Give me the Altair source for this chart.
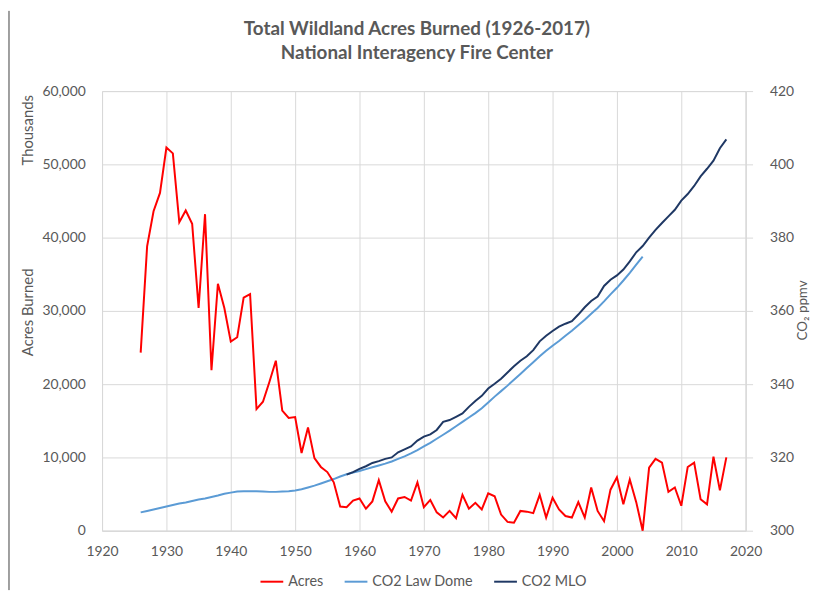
import altair as alt
import pandas as pd

FONT = "Lato"
TXT = "#595959"
GRID = "#d9d9d9"

# ---- data ----
acres_years = list(range(1926, 2018))
acres_thousands = [
    24300, 38800, 43600, 46100, 52300, 51500, 42100, 43700, 41900, 30400,
    43200, 21900, 33700, 30400, 25800, 26400, 31800, 32300, 16600, 17600,
    20300, 23200, 16400, 15400, 15500, 10600, 14100, 9900, 8700, 8000,
    6600, 3300, 3200, 4100, 4400, 3000, 4000, 6900, 4000, 2600,
    4400, 4600, 4100, 6600, 3200, 4200, 2500, 1800, 2700, 1700,
    4900, 3000, 3800, 2900, 5100, 4700, 2200, 1200, 1100, 2700,
    2600, 2400, 4900, 1800, 4500, 2900, 2000, 1800, 3900, 1800,
    5900, 2700, 1300, 5600, 7300, 3600, 7000, 3900, 0, 8600,
    9800, 9300, 5300, 5900, 3400, 8700, 9300, 4300, 3600, 10100,
    5500, 10000,
]

law_dome_years = list(range(1926, 2005))
law_dome_ppmv = [
    305.0, 305.4, 305.8, 306.2, 306.6, 307.0, 307.4, 307.7, 308.1, 308.5,
    308.8, 309.2, 309.6, 310.1, 310.4, 310.7, 310.8, 310.8, 310.8, 310.7,
    310.6, 310.6, 310.7, 310.8, 311.0, 311.3, 311.8, 312.3, 312.9, 313.5,
    314.1, 314.8, 315.4, 315.9, 316.3, 316.8, 317.3, 317.8, 318.3, 318.9,
    319.6, 320.3, 321.1, 322.0, 323.0, 324.0, 325.1, 326.2, 327.3, 328.5,
    329.7, 330.9, 332.1, 333.4, 335.0, 336.6, 338.1, 339.6, 341.2, 342.8,
    344.4, 346.0, 347.6, 349.1, 350.5, 351.8, 353.2, 354.6, 356.1, 357.6,
    359.2, 360.8, 362.6, 364.5, 366.3, 368.3, 370.4, 372.6, 374.8,
]

mlo_years = list(range(1958, 2018))
mlo_ppmv = [
    315.3, 316.0, 316.9, 317.6, 318.5, 319.0, 319.6, 320.0, 321.4, 322.2,
    323.0, 324.6, 325.7, 326.3, 327.5, 329.7, 330.2, 331.1, 332.0, 333.8,
    335.4, 336.8, 338.8, 340.1, 341.5, 343.2, 344.9, 346.4, 347.6, 349.3,
    351.7, 353.2, 354.5, 355.7, 356.5, 357.2, 359.0, 361.0, 362.7, 363.9,
    366.8, 368.5, 369.7, 371.3, 373.5, 376.0, 377.7, 380.0, 382.1, 384.0,
    385.8, 387.6, 390.1, 391.9, 394.1, 396.7, 398.8, 401.0, 404.4, 406.8,
]

series_names = ["Acres", "CO2 Law Dome", "CO2 MLO"]
series_colors = ["#FF0000", "#5B9BD5", "#1F3864"]

x_ticks = [1920, 1930, 1940, 1950, 1960, 1970, 1980, 1990, 2000, 2010, 2020]
left_ticks = [0, 10000, 20000, 30000, 40000, 50000, 60000]
right_ticks = [300, 320, 340, 360, 380, 400, 420]

title_lines = ["Total Wildland Acres Burned (1926-2017)", "National Interagency Fire Center"]

# ---- tables ----
acres_df = pd.DataFrame({"Year": acres_years, "Value": acres_thousands, "Series": series_names[0]})
co2_df = pd.concat([
    pd.DataFrame({"Year": law_dome_years, "Value": law_dome_ppmv, "Series": series_names[1]}),
    pd.DataFrame({"Year": mlo_years, "Value": mlo_ppmv, "Series": series_names[2]}),
])

color_scale = alt.Scale(domain=series_names, range=series_colors)
legend = alt.Legend(
    title=None, orient="none", legendX=159, legendY=483, direction="horizontal",
    symbolType="stroke", symbolSize=529, symbolStrokeWidth=2,
    labelFont=FONT, labelFontSize=14.5, labelColor=TXT, labelOffset=4,
    columnPadding=17,
)

x_enc = alt.X(
    "Year:Q",
    scale=alt.Scale(domain=[1920, 2020], nice=False, zero=False),
    axis=alt.Axis(
        values=x_ticks, format="d", title=None, grid=True, gridColor=GRID,
        domainColor=GRID, ticks=False, labelPadding=14, labelFontSize=14,
        labelColor=TXT, labelFont=FONT, labelFlush=False,
    ),
)

co2 = alt.Chart(co2_df).mark_line(strokeWidth=2).encode(
    x=x_enc,
    y=alt.Y(
        "Value:Q",
        scale=alt.Scale(domain=[300, 420], nice=False, zero=False),
        axis=alt.Axis(
            orient="right", values=right_ticks, grid=False,
            title="CO₂ ppmv", titleAngle=270, titleX=57, titleY=221,
            titleAlign="center", titleBaseline="middle",
            titleFont=FONT, titleFontSize=13.5, titleFontWeight="normal", titleColor=TXT,
            tickSize=7, tickColor=GRID, domainColor=GRID, labelPadding=17,
            labelFont=FONT, labelFontSize=14, labelColor=TXT, labelFlush=False,
        ),
    ),
    color=alt.Color("Series:N", scale=color_scale, legend=legend),
)

acres = alt.Chart(acres_df).mark_line(strokeWidth=2).encode(
    x=x_enc,
    y=alt.Y(
        "Value:Q",
        scale=alt.Scale(domain=[0, 60000], nice=False, zero=True),
        axis=alt.Axis(
            orient="left", values=left_ticks, format=",.0f", grid=True, gridColor=GRID,
            title="Acres Burned", titleAngle=270, titleX=-75, titleY=223,
            titleAlign="center", titleBaseline="middle",
            titleFont=FONT, titleFontSize=15, titleFontWeight="normal", titleColor=TXT,
            ticks=False, domain=False, labelPadding=17,
            labelFont=FONT, labelFontSize=14, labelColor=TXT, labelFlush=False,
        ),
    ),
    color=alt.Color("Series:N", scale=color_scale, legend=legend),
)

units = alt.Chart(pd.DataFrame({"t": ["Thousands"]})).mark_text(
    angle=270, align="right", baseline="middle", font=FONT, fontSize=15, color=TXT,
).encode(x=alt.value(-75), y=alt.value(4), text="t:N")

border = alt.Chart(pd.DataFrame({"t": [0]})).mark_rule(color="#404040", strokeWidth=1).encode(
    x=alt.value(-94), y=alt.value(-81), y2=alt.value(504)
)

chart = alt.layer(co2, acres, units, border).resolve_scale(y="independent").properties(
    width=650, height=444,
    autosize=alt.AutoSizeParams(type="none"),
    padding={"left": 95, "top": 81, "right": 65, "bottom": 60},
    title=alt.Title(
        title_lines, font=FONT, fontSize=19, fontWeight="bold", color=TXT,
        anchor="middle", dx=-7, dy=53, offset=0, lineHeight=24,
    ),
).configure_view(stroke=None).configure(background="white")

chart.save("out.html", embed_options={"renderer": "svg", "actions": False})
